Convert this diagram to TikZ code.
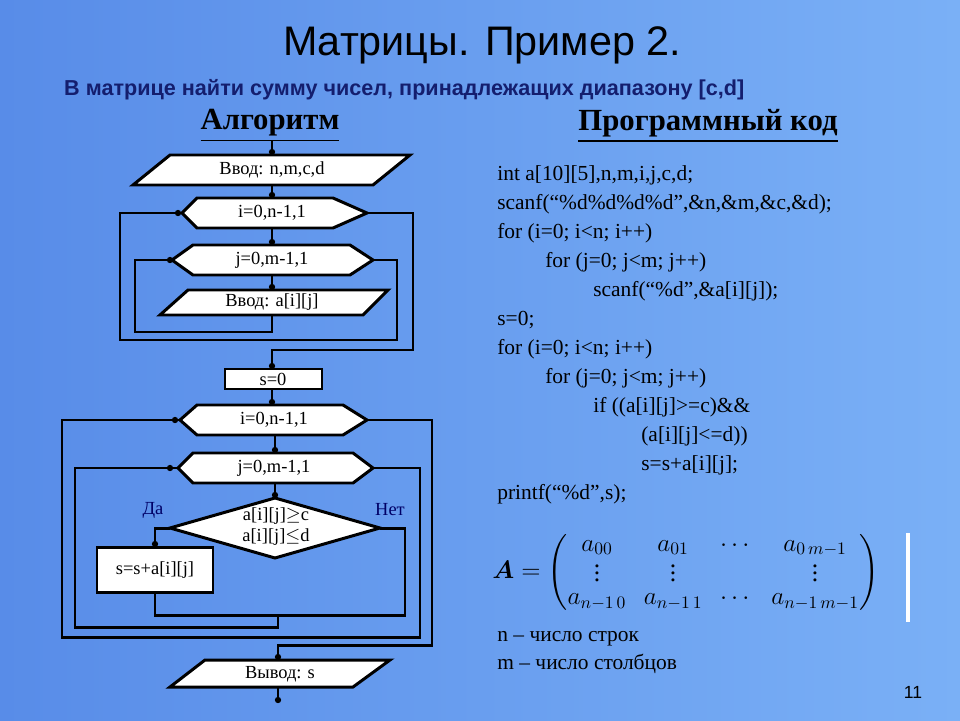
\documentclass[tikz,border=0pt]{standalone}
\usepackage{fontspec}
\usepackage{amsmath}
\setmainfont{Liberation Serif}
\newfontfamily\arial{Liberation Sans}
\begin{document}
\begin{tikzpicture}[x=0.02cm,y=-0.02cm,
  ln/.style={line width=1.7pt,line join=miter},
  shp/.style={ln,fill=white},
  dt/.style={fill=black},
  ftxt/.style={font=\fontsize{10.5}{12}\selectfont,inner sep=0pt},
  code/.style={font=\fontsize{12.2}{14}\selectfont,anchor=base west,inner sep=0pt},
  yn/.style={font=\fontsize{10.5}{12}\selectfont,text=blue!40!black,inner sep=0pt}]
\fill[left color={rgb,255:red,88;green,140;blue,232}, right color={rgb,255:red,122;green,176;blue,246}] (0,0) rectangle (960,720);
\useasboundingbox (0,0) rectangle (960,720);
% titles
\node[font=\arial\fontsize{23.5}{27}\selectfont] (title) at (482,45) {Матрицы. Пример 2.};
\node[font=\arial\bfseries\fontsize{12.3}{14}\selectfont,text={rgb,255:red,20;green,30;blue,110},anchor=west] (sub) at (58,90) {В матрице найти сумму чисел, принадлежащих диапазону [c,d]};
\node[font=\bfseries\fontsize{17.5}{20}\selectfont] (h1) at (270,126) {\underline{Алгоритм}};
\node[font=\bfseries\fontsize{17.5}{20}\selectfont] (h2) at (708,126) {\underline{Программный код}};
% code
\node[code] (c1) at (497,180) {int a[10][5],n,m,i,j,c,d;};
\node[code] (c2) at (497,209) {scanf(“\%d\%d\%d\%d”,\&n,\&m,\&c,\&d);};
\node[code] (c3) at (497,238) {for (i=0; i<n; i++)};
\node[code] (c4) at (545,267) {for (j=0; j<m; j++)};
\node[code] (c5) at (593,296) {scanf(“\%d”,\&a[i][j]);};
\node[code] (c6) at (497,325) {s=0;};
\node[code] (c7) at (497,354) {for (i=0; i<n; i++)};
\node[code] (c8) at (545,383) {for (j=0; j<m; j++)};
\node[code] (c9) at (593,412) {if ((a[i][j]>=c)\&\&};
\node[code] (c10) at (641,441) {(a[i][j]<=d))};
\node[code] (c11) at (641,470) {s=s+a[i][j];};
\node[code] (c12) at (497,499) {printf(“\%d”,s);};
\node[anchor=west,inner sep=0pt,font=\fontsize{14.5}{16}\selectfont] (mat) at (492,572) {$\boldsymbol{A}=\begin{pmatrix} a_{00} & a_{01} & \cdots & a_{0\,m-1}\\[-3pt] \vdots & \vdots & & \vdots\\[-3pt] a_{n-1\,0} & a_{n-1\,1} & \cdots & a_{n-1\,m-1}\end{pmatrix}$};
\fill[white] (906,533) rectangle (910,622);
\node[code] (n1) at (497,641) {n – число строк};
\node[code] (n2) at (497,669) {m – число столбцов};
\node[font=\arial\fontsize{10}{12}\selectfont] (pg) at (913,692) {11};
% ---- top flowchart
\coordinate (t0) at (272,140);
\draw[shp] (170,155) -- (410,155) -- (373,185) -- (133,185) -- cycle;
\node[ftxt] (in1) at (272,170) {Ввод: n,m,c,d};
\draw[shp] (182,213) -- (197,198) -- (333,198) -- (367,213) -- (333,228) -- (197,228) -- cycle;
\node[ftxt] (i1) at (272,213) {i=0,n-1,1};
\draw[shp] (172,260) -- (193,245) -- (350,245) -- (373,260) -- (350,275) -- (193,275) -- cycle;
\node[ftxt] (j1) at (272,260) {j=0,m-1,1};
\draw[shp] (188,290) -- (388,290) -- (363,315) -- (160,315) -- cycle;
\node[ftxt] (in2) at (272,302) {Ввод: a[i][j]};
\draw[shp] (225,369) rectangle (322,389);
\node[ftxt] (s0) at (273,379) {s=0};
\draw[ln] (t0) -- (272,155) (272,185) -- (272,198) (272,228) -- (272,245) (272,275) -- (272,290);
\draw[ln] (272,315) -- (272,332) -- (135,332) -- (135,260) -- (172,260);
\draw[ln] (373,260) -- (397,260) -- (397,340) -- (120,340) -- (120,213) -- (182,213);
\draw[ln] (367,213) -- (413,213) -- (413,350) -- (272,350) -- (272,369);
\foreach \p in {(272,152),(272,195),(178,213),(272,242),(170,260),(272,287),(272,366)} \fill[dt] \p circle (1.8pt);
% ---- bottom flowchart
\draw[ln] (272,389) -- (272,405);
\draw[shp] (180,420) -- (197,405) -- (343,405) -- (367,420) -- (343,435) -- (197,435) -- cycle;
\node[ftxt] (i2) at (274,420) {i=0,n-1,1};
\draw[shp] (178,468) -- (193,453) -- (353,453) -- (373,468) -- (353,483) -- (193,483) -- cycle;
\node[ftxt] (j2) at (274,468) {j=0,m-1,1};
\draw[ln] (275,435) -- (275,453) (275,483) -- (275,498);
\draw[shp] (275,498) -- (380,528) -- (275,558) -- (170,528) -- cycle;
\node[ftxt,align=center] (cond) at (276,527) {a[i][j]$\geq$c\\a[i][j]$\leq$d};
\node[yn] (da) at (153,510) {Да};
\node[yn] (net) at (390,510) {Нет};
\draw[shp] (97,547) rectangle (213,592);
\node[ftxt] (ss) at (155,570) {s=s+a[i][j]};
\draw[ln] (170,528) -- (155,528) -- (155,547);
\draw[ln] (155,592) -- (155,615) -- (405,615) -- (405,528) -- (380,528);
\draw[ln] (278,615) -- (278,627) -- (75,627) -- (75,468) -- (178,468);
\draw[ln] (373,468) -- (420,468) -- (420,637) -- (62,637) -- (62,420) -- (180,420);
\draw[ln] (367,420) -- (432,420) -- (432,645) -- (278,645) -- (278,660);
\draw[shp] (205,660) -- (390,660) -- (353,687) -- (170,687) -- cycle;
\node[ftxt] (out) at (280,674) {Вывод: s};
\draw[ln] (278,687) -- (278,702);
\foreach \p in {(272,402),(175,420),(275,450),(170,468),(275,495),(155,544),(278,657),(278,700)} \fill[dt] \p circle (1.8pt);
\end{tikzpicture}
\end{document}
